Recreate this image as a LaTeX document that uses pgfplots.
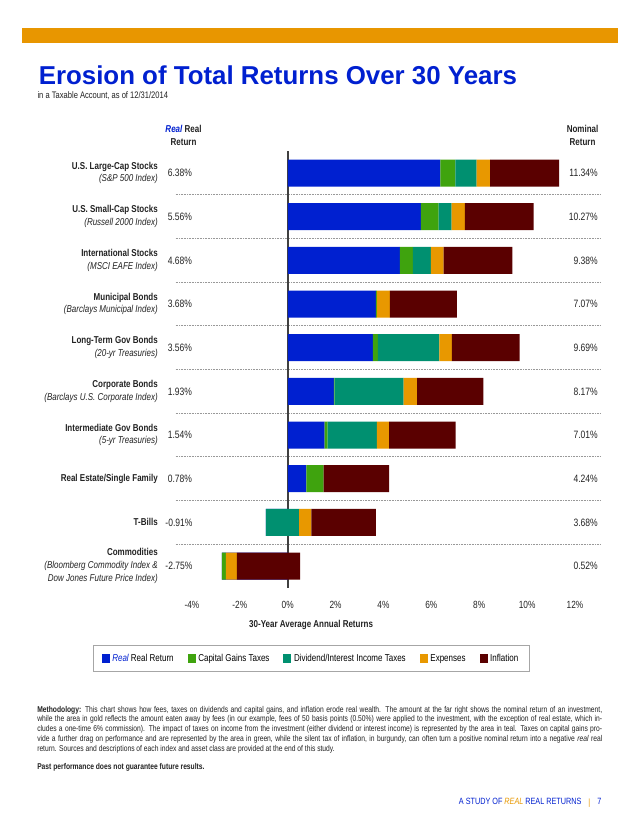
\documentclass[border=0pt]{standalone}
\usepackage{pgfplots}
\pgfplotsset{compat=1.18}
\usepackage{pgfplotstable}
\usepackage{fontspec}
\setmainfont{Liberation Sans}[FakeStretch=0.8]
\newfontfamily\widefont{Liberation Sans}

\definecolor{realblue}{RGB}{0,32,208}
\definecolor{capgreen}{RGB}{63,163,14}
\definecolor{divteal}{RGB}{0,144,112}
\definecolor{expgold}{RGB}{232,152,0}
\definecolor{infmaroon}{RGB}{90,0,0}
\definecolor{bandorange}{RGB}{232,150,0}
\definecolor{txtgray}{RGB}{35,35,35}

% rows from the bottom (0 = Commodities) to the top (9 = U.S. Large-Cap)
\pgfplotstableread{
y real cap div exp inf
9 6.38 0.62 0.89 0.56 2.89
8 5.56 0.74 0.55 0.55 2.87
7 4.68 0.55 0.75 0.53 2.87
6 3.68 0.04 0.00 0.55 2.80
5 3.56 0.20 2.57 0.53 2.83
4 1.93 0.03 2.88 0.56 2.77
3 1.54 0.13 2.05 0.51 2.78
2 0.78 0.72 0.00 0.00 2.74
1 -0.91 0.00 1.38 0.52 2.69
0 -2.75 0.16 0.00 0.46 2.65
}\returnsdata

\tikzset{
  val/.style={inner sep=0pt, text=txtgray, font=\fontsize{8pt}{9pt}\selectfont},
}

\begin{document}
\begin{tikzpicture}
% page furniture in pixel units, origin top left
\begin{scope}[x=0.75pt,y=-0.75pt]
\fill[white] (0,0) rectangle (640,828);
\fill[bandorange] (22,27.5) rectangle (617.5,42.5);
\node[anchor=base west, inner sep=0, text=realblue,
  font=\widefont\bfseries\fontsize{19.4pt}{21pt}\selectfont] at (38.5,84.5) {Erosion of Total Returns Over 30 Years};
\node[anchor=base west, inner sep=0, text=txtgray,
  font=\fontsize{7.1pt}{8pt}\selectfont] at (37.3,98.3) {in a Taxable Account, as of 12/31/2014};

\node[align=center, inner sep=0, text=txtgray, font=\bfseries\fontsize{7.5pt}{9.75pt}\selectfont]
  at (183.5,135.8) {\textit{\color{realblue}Real} Real\\Return};
\node[align=center, inner sep=0, text=txtgray, font=\bfseries\fontsize{7.5pt}{9.75pt}\selectfont]
  at (582.6,135.8) {Nominal\\Return};

\foreach \yy in {194.8,238.5,282.2,325.8,369.5,413.2,456.8,500.5,544.2}
  \draw[gray!80, line width=0.6pt, dash pattern=on 0.5pt off 0.7pt] (175.7,\yy) -- (600,\yy);
\draw[gray!50!black, line width=0.9pt] (288,151) -- (288,588);

\begin{scope}[every node/.style={anchor=base west, inner sep=0, text=txtgray, font=\fontsize{6.3pt}{7pt}\selectfont}]
\node at (37,712) {\makebox[423.75pt][s]{\textbf{Methodology:} This chart shows how fees, taxes on dividends and capital gains, and inflation erode real wealth. The amount at the far right shows the nominal return of an investment,}};
\node at (37,721.7) {\makebox[423.75pt][s]{while the area in gold reflects the amount eaten away by fees (in our example, fees of 50 basis points (0.50\%) were applied to the investment, with the exception of real estate, which in-}};
\node at (37,731.5) {\makebox[423.75pt][s]{cludes a one-time 6\% commission). The impact of taxes on income from the investment (either dividend or interest income) is represented by the area in teal. Taxes on capital gains pro-}};
\node at (37,741.2) {\makebox[423.75pt][s]{vide a further drag on performance and are represented by the area in green, while the silent tax of inflation, in burgundy, can often turn a positive nominal return into a negative \textit{real} real}};
\node at (37,751) {return. Sources and descriptions of each index and asset class are provided at the end of this study.};
\node at (37,769.5) {\textbf{Past performance does not guarantee future results.}};
\end{scope}

\node[anchor=base east, inner sep=0, text=realblue, font=\fontsize{6.8pt}{7pt}\selectfont]
  at (581.7,804.7) {A STUDY OF \textit{\color{expgold}REAL} REAL RETURNS};
\node[anchor=base, inner sep=0, text=expgold, font=\fontsize{6.8pt}{7pt}\selectfont] at (589.3,805) {|};
\node[anchor=base, inner sep=0, text=realblue, font=\fontsize{6.8pt}{7pt}\selectfont] at (599.5,804.7) {7};
\end{scope}

\begin{axis}[
  at={(144pt,-442.5pt)}, anchor=south west,
  scale only axis, width=287.25pt, height=328.5pt,
  xmin=-4, xmax=12, ymin=-0.549, ymax=9.481,
  xbar stacked, stack negative=on previous, reverse stacked plots=false,
  bar width=20.25pt,
  axis line style={draw=none}, major tick length=0pt,
  clip=false,
  xtick={-4,-2,...,12},
  xticklabels={-4\%,-2\%,0\%,2\%,4\%,6\%,8\%,10\%,12\%},
  xticklabel style={font=\fontsize{7.8pt}{8pt}\selectfont, text=txtgray, inner sep=0pt, anchor=north, yshift=-8pt},
  ytick={0,...,9},
  yticklabels={
    {\textbf{Commodities}\\\textit{(Bloomberg Commodity Index \&}\\\textit{Dow Jones Future Price Index)}},
    {\textbf{T-Bills}},
    {\textbf{Real Estate/Single Family}},
    {\textbf{Intermediate Gov Bonds}\\\textit{(5-yr Treasuries)}},
    {\textbf{Corporate Bonds}\\\textit{(Barclays U.S. Corporate Index)}},
    {\textbf{Long-Term Gov Bonds}\\\textit{(20-yr Treasuries)}},
    {\textbf{Municipal Bonds}\\\textit{(Barclays Municipal Index)}},
    {\textbf{International Stocks}\\\textit{(MSCI EAFE Index)}},
    {\textbf{U.S. Small-Cap Stocks}\\\textit{(Russell 2000 Index)}},
    {\textbf{U.S. Large-Cap Stocks}\\\textit{(S\&P 500 Index)}}},
  yticklabel style={font=\fontsize{7.5pt}{9.5pt}\selectfont, text=txtgray, align=right, anchor=east, inner sep=0pt, xshift=-25.5pt},
  xlabel={\textbf{30-Year Average Annual Returns}},
  xlabel style={at={(axis description cs:0.311,0)}, anchor=center, yshift=-26pt, font=\fontsize{7.5pt}{8pt}\selectfont, text=txtgray},
  legend columns=5,
  legend style={at={(axis description cs:0.3114,-0.1564)}, anchor=center,
    draw=gray!70, line width=0.6pt, inner xsep=6pt, inner ysep=4pt,
    font=\fontsize{7.5pt}{8pt}\selectfont,
    nodes={text height=5.6pt, text depth=1.6pt},
    /tikz/every even column/.append style={column sep=8.5pt}},
  legend cell align=left,
  legend image code/.code={\fill[#1] (0pt,-3.4pt) rectangle (6pt,3.4pt);},
]
\addplot[fill=realblue, draw=none] table[x=real, y=y] {\returnsdata};
\addlegendentry{\textit{\color{realblue}Real} Real Return}
\addplot[fill=capgreen, draw=none] table[x=cap, y=y] {\returnsdata};
\addlegendentry{Capital Gains Taxes}
\addplot[fill=divteal, draw=none] table[x=div, y=y] {\returnsdata};
\addlegendentry{Dividend/Interest Income Taxes}
\addplot[fill=expgold, draw=none] table[x=exp, y=y] {\returnsdata};
\addlegendentry{Expenses}
\addplot[fill=infmaroon, draw=none] table[x=inf, y=y] {\returnsdata};
\addlegendentry{Inflation}

% real return (left) and nominal return (right) columns
\node[val, anchor=west] at (axis cs:-5.02,9) {6.38\%};
\node[val, anchor=west] at (axis cs:-5.02,8) {5.56\%};
\node[val, anchor=west] at (axis cs:-5.02,7) {4.68\%};
\node[val, anchor=west] at (axis cs:-5.02,6) {3.68\%};
\node[val, anchor=west] at (axis cs:-5.02,5) {3.56\%};
\node[val, anchor=west] at (axis cs:-5.02,4) {1.93\%};
\node[val, anchor=west] at (axis cs:-5.02,3) {1.54\%};
\node[val, anchor=west] at (axis cs:-5.02,2) {0.78\%};
\node[val, anchor=west] at (axis cs:-5.12,1) {-0.91\%};
\node[val, anchor=west] at (axis cs:-5.12,0) {-2.75\%};
\node[val, anchor=east] at (axis cs:12.96,9) {11.34\%};
\node[val, anchor=east] at (axis cs:12.96,8) {10.27\%};
\node[val, anchor=east] at (axis cs:12.96,7) {9.38\%};
\node[val, anchor=east] at (axis cs:12.96,6) {7.07\%};
\node[val, anchor=east] at (axis cs:12.96,5) {9.69\%};
\node[val, anchor=east] at (axis cs:12.96,4) {8.17\%};
\node[val, anchor=east] at (axis cs:12.96,3) {7.01\%};
\node[val, anchor=east] at (axis cs:12.96,2) {4.24\%};
\node[val, anchor=east] at (axis cs:12.96,1) {3.68\%};
\node[val, anchor=east] at (axis cs:12.96,0) {0.52\%};
\end{axis}
\end{tikzpicture}
\end{document}
